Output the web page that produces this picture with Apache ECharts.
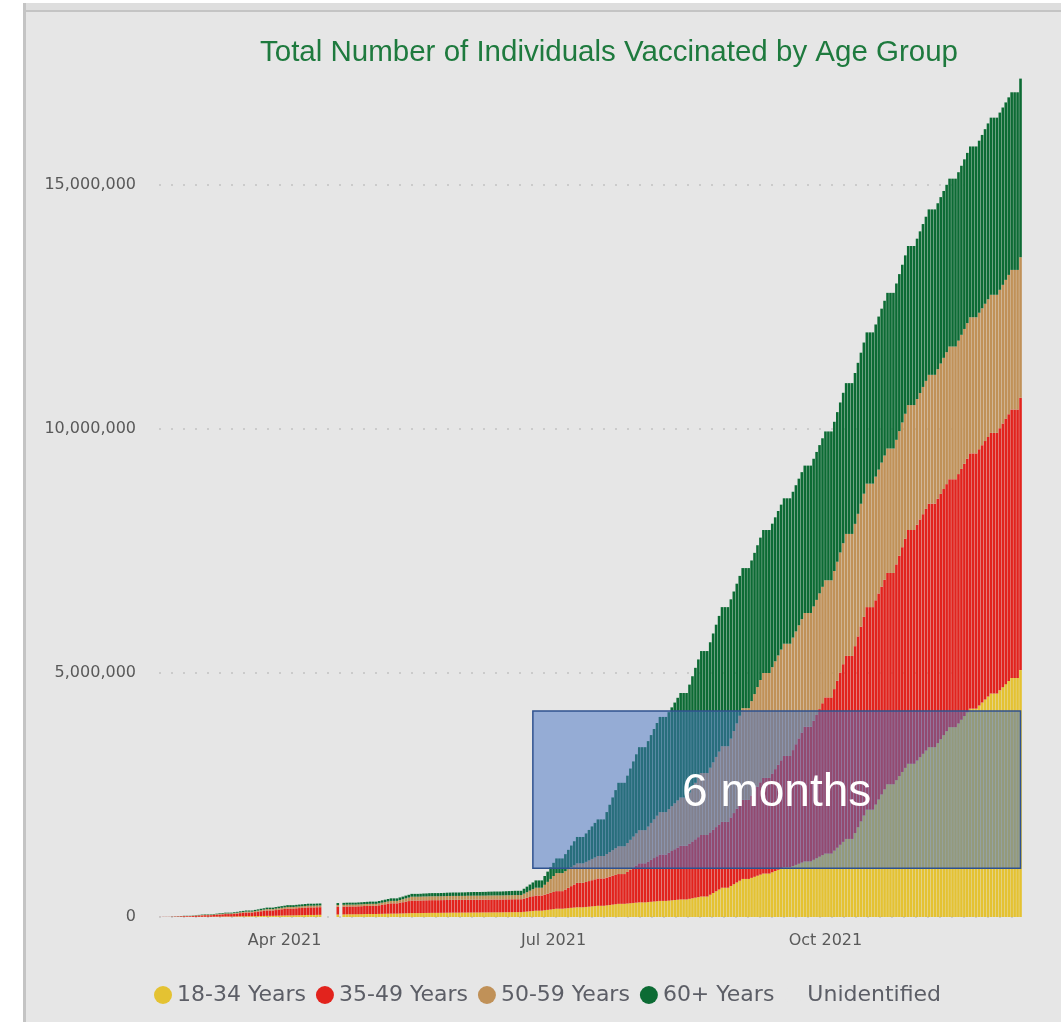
<!DOCTYPE html>
<html>
<head>
<meta charset="utf-8">
<title>Total Number of Individuals Vaccinated by Age Group</title>
<script src="https://cdn.jsdelivr.net/npm/echarts@6/dist/echarts.min.js"></script>
<style>
  html, body { margin: 0; padding: 0; background: #fff; }
  #chart { width: 1061px; height: 1022px; }
</style>
</head>
<body>
<div id="chart"></div>
<script>
// cumulative people vaccinated per age group, in thousands,
// one value per day starting 2021-02-18 (null = no bar that day)
const startDate = '2021-02-18'
const dayCount = 292

const ages18to34 = [
  0, 0,
  0, 0, 0, 1, 1, 2, 2,
  2, 2, 3, 3, 4, 4, 5,
  5, 5, 6, 7, 8, 9, 10,
  10, 10, 11, 12, 14, 15, 16,
  16, 16, 18, 19, 21, 22, 24,
  24, 24, 26, 28, 30, 31, 33,
  33, 33, 35, 37, 38, 40, 42,
  42, 42, 44, 45, null, null, null,
  null, null, 51, null, 53, 55, 56,
  56, 56, 57, 58, 60, 61, 62,
  62, 62, 64, 65, 67, 68, 70,
  70, 70, 72, 74, 76, 78, 80,
  80, 80, 81, 82, 83, 84, 85,
  85, 85, 86, 87, 88, 89, 90,
  90, 90, 91, 91, 92, 92, 93,
  93, 93, 94, 94, 95, 95, 96,
  96, 96, 97, 98, 98, 99, 100,
  100, 100, 106, 112, 118, 124, 130,
  130, 130, 138, 146, 154, 162, 170,
  170, 170, 176, 182, 188, 194, 200,
  200, 200, 206, 212, 218, 224, 230,
  230, 230, 238, 246, 254, 262, 270,
  270, 270, 276, 282, 288, 294, 300,
  300, 300, 306, 312, 318, 324, 330,
  330, 330, 336, 342, 348, 354, 360,
  360, 360, 372, 384, 396, 408, 420,
  420, 420, 456, 492, 528, 564, 600,
  600, 600, 636, 672, 708, 744, 780,
  780, 780, 802, 824, 846, 868, 890,
  890, 890, 916, 942, 968, 994, 1020,
  1020, 1020, 1044, 1068, 1092, 1116, 1140,
  1140, 1140, 1172, 1204, 1236, 1268, 1300,
  1300, 1300, 1360, 1420, 1480, 1540, 1600,
  1600, 1600, 1720, 1840, 1960, 2080, 2200,
  2200, 2200, 2304, 2408, 2512, 2616, 2720,
  2720, 2720, 2804, 2888, 2972, 3056, 3140,
  3140, 3140, 3208, 3276, 3344, 3412, 3480,
  3480, 3480, 3562, 3644, 3726, 3808, 3890,
  3890, 3890, 3966, 4042, 4118, 4194, 4270,
  4270, 4270, 4332, 4394, 4456, 4518, 4580,
  4580, 4580, 4644, 4708, 4772, 4836, 4900,
  4900, 4900, 5060
]

const ages35to49 = [
  1, 3,
  3, 3, 5, 8, 10, 13, 15,
  15, 15, 18, 22, 25, 29, 32,
  32, 32, 36, 39, 43, 46, 50,
  50, 50, 55, 60, 65, 70, 75,
  75, 75, 82, 89, 96, 103, 110,
  110, 110, 116, 122, 128, 134, 140,
  140, 140, 143, 146, 149, 152, 155,
  155, 155, 156, 156, null, null, null,
  null, null, 158, null, 159, 160, 160,
  160, 160, 162, 163, 165, 166, 168,
  168, 168, 176, 185, 193, 202, 210,
  210, 210, 220, 229, 239, 248, 258,
  258, 258, 258, 259, 259, 260, 260,
  260, 260, 260, 260, 261, 261, 261,
  261, 261, 261, 261, 262, 262, 262,
  262, 262, 262, 262, 263, 263, 263,
  263, 263, 263, 263, 264, 264, 264,
  264, 264, 273, 282, 292, 301, 310,
  310, 310, 320, 330, 340, 350, 360,
  360, 360, 388, 416, 444, 472, 500,
  500, 500, 512, 524, 536, 548, 560,
  560, 560, 570, 580, 590, 600, 610,
  610, 610, 648, 686, 724, 762, 800,
  800, 800, 830, 860, 890, 920, 950,
  950, 950, 980, 1010, 1040, 1070, 1100,
  1100, 1100, 1132, 1164, 1196, 1228, 1260,
  1260, 1260, 1278, 1296, 1314, 1332, 1350,
  1350, 1350, 1404, 1458, 1512, 1566, 1620,
  1620, 1620, 1688, 1756, 1824, 1892, 1960,
  1960, 1960, 2024, 2088, 2152, 2216, 2280,
  2280, 2280, 2376, 2472, 2568, 2664, 2760,
  2760, 2760, 2848, 2936, 3024, 3112, 3200,
  3200, 3200, 3310, 3420, 3530, 3640, 3750,
  3750, 3750, 3830, 3910, 3990, 4070, 4150,
  4150, 4150, 4186, 4222, 4258, 4294, 4330,
  4330, 4330, 4422, 4514, 4606, 4698, 4790,
  4790, 4790, 4830, 4870, 4910, 4950, 4990,
  4990, 4990, 5008, 5026, 5044, 5062, 5080,
  5080, 5080, 5110, 5140, 5170, 5200, 5230,
  5230, 5230, 5252, 5274, 5296, 5318, 5340,
  5340, 5340, 5372, 5404, 5436, 5468, 5500,
  5500, 5500, 5580
]

const ages50to59 = [
  0, 0,
  0, 0, 1, 2, 2, 3, 4,
  4, 4, 5, 6, 7, 8, 9,
  9, 9, 10, 11, 12, 13, 14,
  14, 14, 15, 16, 18, 19, 20,
  20, 20, 22, 23, 25, 26, 28,
  28, 28, 29, 30, 30, 31, 32,
  32, 32, 33, 33, 34, 34, 35,
  35, 35, 35, 36, null, null, null,
  null, null, 37, null, 38, 38, 38,
  38, 38, 38, 39, 39, 40, 40,
  40, 40, 42, 44, 46, 48, 50,
  50, 50, 56, 61, 67, 72, 78,
  78, 78, 78, 79, 79, 80, 80,
  80, 80, 80, 80, 81, 81, 81,
  81, 81, 81, 81, 82, 82, 82,
  82, 82, 82, 82, 83, 83, 83,
  83, 83, 83, 84, 84, 85, 85,
  85, 85, 100, 115, 130, 145, 160,
  160, 160, 202, 244, 286, 328, 370,
  370, 370, 376, 382, 388, 394, 400,
  400, 400, 412, 424, 436, 448, 460,
  460, 460, 482, 504, 526, 548, 570,
  570, 570, 592, 614, 636, 658, 680,
  680, 680, 718, 756, 794, 832, 870,
  870, 870, 894, 918, 942, 966, 990,
  990, 990, 1046, 1102, 1158, 1214, 1270,
  1270, 1270, 1326, 1382, 1438, 1494, 1550,
  1550, 1550, 1616, 1682, 1748, 1814, 1880,
  1880, 1880, 1934, 1988, 2042, 2096, 2150,
  2150, 2150, 2180, 2210, 2240, 2270, 2300,
  2300, 2300, 2306, 2312, 2318, 2324, 2330,
  2330, 2330, 2344, 2358, 2372, 2386, 2400,
  2400, 2400, 2420, 2440, 2460, 2480, 2500,
  2500, 2500, 2506, 2512, 2518, 2524, 2530,
  2530, 2530, 2534, 2538, 2542, 2546, 2550,
  2550, 2550, 2552, 2554, 2556, 2558, 2560,
  2560, 2560, 2576, 2592, 2608, 2624, 2640,
  2640, 2640, 2656, 2672, 2688, 2704, 2720,
  2720, 2720, 2734, 2748, 2762, 2776, 2790,
  2790, 2790, 2798, 2806, 2814, 2822, 2830,
  2830, 2830, 2836, 2842, 2848, 2854, 2860,
  2860, 2860, 2880
]

const ages60plus = [
  0, 1,
  1, 1, 2, 2, 3, 3, 4,
  4, 4, 5, 6, 7, 8, 9,
  9, 9, 10, 11, 13, 14, 15,
  15, 15, 16, 18, 19, 21, 22,
  22, 22, 24, 25, 27, 28, 30,
  30, 30, 32, 33, 35, 36, 38,
  38, 38, 38, 39, 39, 40, 40,
  40, 40, 40, 40, null, null, null,
  null, null, 40, null, 40, 40, 40,
  40, 40, 41, 42, 43, 44, 45,
  45, 45, 46, 48, 49, 51, 52,
  52, 52, 53, 54, 56, 57, 58,
  58, 58, 59, 61, 62, 64, 65,
  65, 65, 66, 67, 68, 69, 70,
  70, 70, 71, 72, 73, 74, 75,
  75, 75, 76, 77, 78, 79, 80,
  80, 80, 82, 83, 85, 86, 88,
  88, 88, 100, 113, 125, 138, 150,
  150, 150, 180, 210, 240, 270, 300,
  300, 300, 348, 396, 444, 492, 540,
  540, 540, 582, 624, 666, 708, 750,
  750, 750, 860, 970, 1080, 1190, 1300,
  1300, 1300, 1380, 1460, 1540, 1620, 1700,
  1700, 1700, 1750, 1800, 1850, 1900, 1950,
  1950, 1950, 1988, 2026, 2064, 2102, 2140,
  2140, 2140, 2212, 2284, 2356, 2428, 2500,
  2500, 2500, 2570, 2640, 2710, 2780, 2850,
  2850, 2850, 2854, 2858, 2862, 2866, 2870,
  2870, 2870, 2882, 2894, 2906, 2918, 2930,
  2930, 2930, 2940, 2950, 2960, 2970, 2980,
  2980, 2980, 2988, 2996, 3004, 3012, 3020,
  3020, 3020, 3026, 3032, 3038, 3044, 3050,
  3050, 3050, 3058, 3066, 3074, 3082, 3090,
  3090, 3090, 3092, 3094, 3096, 3098, 3100,
  3100, 3100, 3118, 3136, 3154, 3172, 3190,
  3190, 3190, 3204, 3218, 3232, 3246, 3260,
  3260, 3260, 3286, 3312, 3338, 3364, 3390,
  3390, 3390, 3400, 3410, 3420, 3430, 3440,
  3440, 3440, 3452, 3464, 3476, 3488, 3500,
  3500, 3500, 3526, 3552, 3578, 3604, 3630,
  3630, 3630, 3632, 3634, 3636, 3638, 3640,
  3640, 3640, 3660
]

const unidentified = []

const groupNames = ['18-34 Years', '35-49 Years', '50-59 Years', '60+ Years', 'Unidentified']
const groupColors = ['#E4C232', '#E2231D', '#C09158', '#0C6B34', '#e6e6e6']

const monthTicks = ['2021-04-01', '2021-07-01', '2021-10-01']
const monthTickLabels = ['Apr 2021', 'Jul 2021', 'Oct 2021']
const yTicks = [0, 5000000, 10000000, 15000000]

// the "6 months" box drawn over the chart
const boxFrom = ['2021-06-24', 1000000]
const boxTo = ['2021-12-06', 4220000]
const boxText = '6 months'

const days = []
for (let i = 0; i < dayCount; i++) {
  const d = new Date(Date.parse(startDate + 'T00:00:00Z') + i * 86400000)
  days.push(d.toISOString().slice(0, 10))
}

const chart = echarts.init(document.getElementById('chart'), null, { renderer: 'canvas' })
const groups = [ages18to34, ages35to49, ages50to59, ages60plus, unidentified]

chart.setOption({
  animation: false,
  backgroundColor: '#e6e6e6',
  title: {
    text: 'Total Number of Individuals Vaccinated by Age Group',
    left: 255,
    top: 33,
    textStyle: {
      fontFamily: '"Liberation Sans", Arial, sans-serif',
      fontSize: 29.5,
      fontWeight: 'normal',
      color: '#1e7a3e'
    }
  },
  legend: {
    data: groupNames,
    left: 154,
    top: 984,
    padding: 0,
    icon: 'circle',
    itemWidth: 18,
    itemHeight: 18,
    itemGap: 10,
    textStyle: {
      fontFamily: '"DejaVu Sans", sans-serif',
      fontSize: 22,
      color: '#5c5e66'
    }
  },
  grid: {
    left: 159,
    width: 863,
    top: 63,
    bottom: 105
  },
  xAxis: {
    type: 'category',
    data: days,
    boundaryGap: true,
    axisLine: { show: false },
    axisTick: { show: false },
    splitLine: { show: false },
    axisLabel: {
      interval: (idx, val) => monthTicks.includes(val),
      formatter: val => monthTickLabels[monthTicks.indexOf(val)] || '',
      margin: 16,
      fontFamily: '"DejaVu Sans", sans-serif',
      fontSize: 16,
      color: '#595959'
    }
  },
  yAxis: {
    type: 'value',
    min: 0,
    max: 17500000,
    interval: 5000000,
    axisLine: { show: false },
    axisTick: { show: false },
    axisLabel: {
      showMaxLabel: false,
      formatter: v => yTicks.includes(v) ? v.toLocaleString('en-US') : '',
      margin: 23,
      fontFamily: '"DejaVu Sans", sans-serif',
      fontSize: 16,
      color: '#595959'
    },
    splitLine: {
      show: true,
      showMaxLine: false,
      lineStyle: { color: '#c2c2c2', type: [2, 10], width: 1.5 }
    }
  },
  series: groups.map((vals, i) => ({
    name: groupNames[i],
    type: 'bar',
    stack: 'total',
    barCategoryGap: '12%',
    itemStyle: { color: groupColors[i] },
    emphasis: { disabled: true },
    data: vals.map(v => v == null ? '-' : v * 1000)
  }))
})

// annotation box positioned through the chart's own axes
const p1 = chart.convertToPixel({ gridIndex: 0 }, [days.indexOf(boxFrom[0]), boxFrom[1]])
const p2 = chart.convertToPixel({ gridIndex: 0 }, [days.indexOf(boxTo[0]), boxTo[1]])
const bx = Math.min(p1[0], p2[0])
const by = Math.min(p1[1], p2[1])
const bw = Math.abs(p2[0] - p1[0])
const bh = Math.abs(p2[1] - p1[1])

chart.setOption({
  graphic: [
    // white page margin and the panel border
    { type: 'rect', z: 0, shape: { x: 0, y: 0, width: 23, height: 1022 }, style: { fill: '#fff' } },
    { type: 'rect', z: 0, shape: { x: 23, y: 0, width: 1038, height: 3 }, style: { fill: '#fff' } },
    { type: 'rect', z: 0, shape: { x: 23, y: 3, width: 1038, height: 7 }, style: { fill: '#dedede' } },
    { type: 'rect', z: 0, shape: { x: 23, y: 10, width: 1038, height: 2 }, style: { fill: '#c4c4c4' } },
    { type: 'rect', z: 0, shape: { x: 23, y: 3, width: 3, height: 1019 }, style: { fill: '#c4c4c4' } },
    {
      type: 'rect', z: 100,
      shape: { x: bx, y: by, width: bw, height: bh },
      style: { fill: 'rgba(68,114,196,0.5)', stroke: '#2F528F', lineWidth: 1.5 }
    },
    {
      type: 'text', z: 101,
      x: bx + bw / 2, y: by + bh / 2 + 4,
      style: {
        text: boxText,
        fill: '#ffffff',
        font: '46px "Liberation Sans", Arial, sans-serif',
        align: 'center',
        verticalAlign: 'middle'
      }
    }
  ]
})
</script>
</body>
</html>
